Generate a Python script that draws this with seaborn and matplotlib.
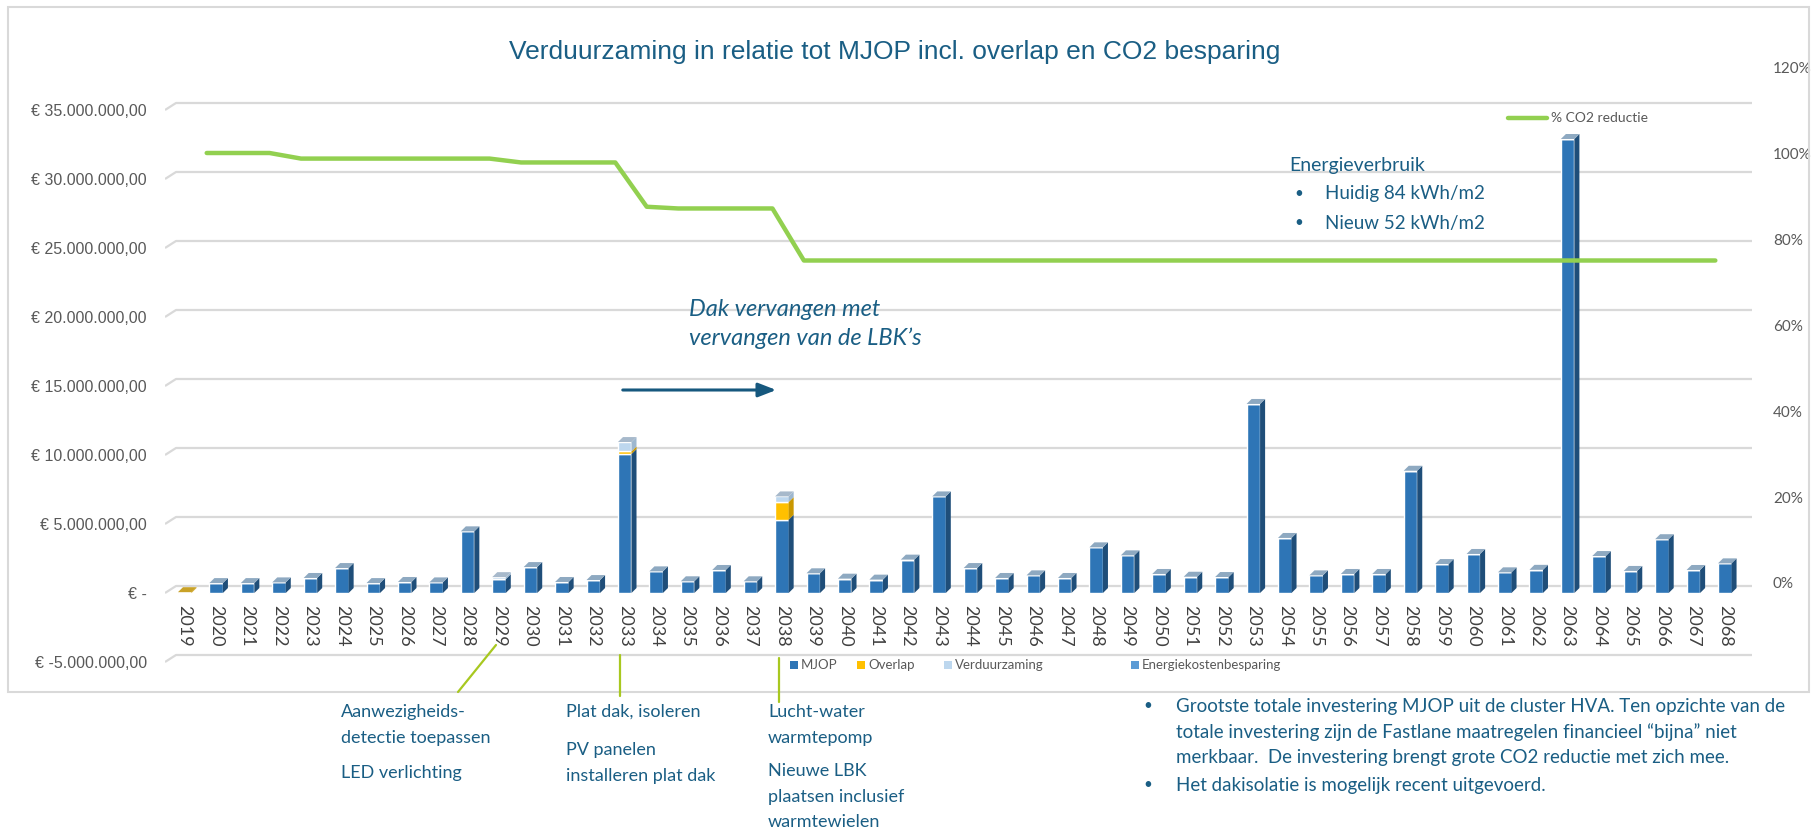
import numpy as np
import pandas as pd
import matplotlib
matplotlib.use("Agg")
import matplotlib.pyplot as plt
from matplotlib import font_manager
from matplotlib.patches import Rectangle
from matplotlib.lines import Line2D
import seaborn as sns

# Data (bedragen in miljoen euro)
years = list(range(2019, 2069))
mjop = [0.0, 0.72, 0.72, 0.77, 1.09, 1.81, 0.72, 0.80, 0.77, 4.47,
        1.00, 1.88, 0.80, 0.94, 10.07, 1.57, 0.85, 1.67, 0.85, 5.31,
        1.43, 1.04, 0.97, 2.42, 7.00, 1.81, 1.09, 1.28, 1.09, 3.31,
        2.73, 1.38, 1.18, 1.16, 13.70, 3.99, 1.28, 1.38, 1.38, 8.86,
        2.10, 2.83, 1.50, 1.68, 32.90, 2.68, 1.60, 3.90, 1.67, 2.15]
overlap = [0.06, 0, 0, 0, 0, 0, 0, 0, 0, 0,
           0, 0, 0, 0, 0.19, 0, 0, 0, 0, 1.28,
           0, 0, 0, 0, 0, 0, 0, 0, 0, 0,
           0, 0, 0, 0, 0, 0, 0, 0, 0, 0,
           0, 0, 0, 0, 0, 0, 0, 0, 0, 0]
verduurzaming = [0, 0, 0, 0, 0, 0, 0, 0, 0, 0,
                 0.15, 0, 0, 0, 0.68, 0, 0, 0, 0, 0.41,
                 0, 0, 0, 0, 0, 0, 0, 0, 0, 0,
                 0, 0, 0, 0, 0, 0, 0, 0, 0, 0,
                 0, 0, 0, 0, 0, 0, 0, 0, 0, 0]
co2_years = list(range(2020, 2069))
co2_reductie = [100, 100, 100, 98.7, 98.7, 98.7, 98.7, 98.7, 98.7, 98.7,
                97.8, 97.8, 97.8, 97.8, 87.5, 87.1, 87.1, 87.1, 87.1, 75,
                75, 75, 75, 75, 75, 75, 75, 75, 75, 75,
                75, 75, 75, 75, 75, 75, 75, 75, 75, 75,
                75, 75, 75, 75, 75, 75, 75, 75, 75]

left_ticks = [-5, 0, 5, 10, 15, 20, 25, 30, 35]
left_labels = ["€ -5.000.000,00", "€ -", "€ 5.000.000,00", "€ 10.000.000,00",
               "€ 15.000.000,00", "€ 20.000.000,00", "€ 25.000.000,00",
               "€ 30.000.000,00", "€ 35.000.000,00"]
right_ticks = [0, 20, 40, 60, 80, 100, 120]
right_labels = ["0%", "20%", "40%", "60%", "80%", "100%", "120%"]

title = "Verduurzaming in relatie tot MJOP incl. overlap en CO2 besparing"
teal = "#1A5E84"
grey = "#595959"
c_mjop, c_mjop_side, c_mjop_top = "#2E75B6", "#1F4E79", "#8EA9C1"
c_overlap, c_overlap_side = "#FFC000", "#C99700"
c_verd, c_verd_side = "#BDD7EE", "#9DB7CF"
c_energie = "#5B9BD5"
c_line = "#92D050"
c_callout = "#A8C820"

sns.set_theme(style="white")
plt.rcParams["font.family"] = ["Lato", "DejaVu Sans"]
names = {f.name for f in font_manager.fontManager.ttflist}
narrow = "Liberation Sans Narrow" if "Liberation Sans Narrow" in names else "Liberation Sans"

W, H = 1811, 830
fig = plt.figure(figsize=(W / 100, H / 100), dpi=100)


def fxy(px, py):
    return px / W, 1 - py / H


# plot area in pixels
ax_l, ax_r, ax_t, ax_b = 165, 1752, 60, 665
ax = fig.add_axes([ax_l / W, 1 - ax_b / H, (ax_r - ax_l) / W, (ax_b - ax_t) / H])

M = 1e6
df = pd.DataFrame({"jaar": [str(y) for y in years],
                   "MJOP": np.array(mjop) * M,
                   "Overlap": np.array(overlap) * M,
                   "Verduurzaming": np.array(verduurzaming) * M})
pos = np.arange(len(years))
bw = 0.43

sns.barplot(data=df, x="jaar", y="MJOP", color=c_mjop, saturation=1, width=bw,
            errorbar=None, ax=ax, zorder=3)
ax.bar(pos, df["Overlap"], bottom=df["MJOP"], width=bw, color=c_overlap, zorder=3)
ax.bar(pos, df["Verduurzaming"], bottom=df["MJOP"] + df["Overlap"], width=bw,
       color=c_verd, zorder=3)

# 3D look: side faces and top caps
dx, dy = 0.16, 0.36 * M
for i in pos:
    segs = [(0, df["MJOP"][i], c_mjop_side),
            (df["MJOP"][i], df["Overlap"][i], c_overlap_side),
            (df["MJOP"][i] + df["Overlap"][i], df["Verduurzaming"][i], c_verd_side)]
    for b, h, c in segs:
        if h > 0:
            xs = i + bw / 2
            ax.fill([xs, xs + dx, xs + dx, xs], [b, b + dy, b + h + dy, b + h],
                    color=c, lw=0, zorder=3)
    total = df["MJOP"][i] + df["Overlap"][i] + df["Verduurzaming"][i]
    if total > 0:
        cap = c_mjop_top if df["Verduurzaming"][i] == 0 and df["Overlap"][i] == 0 else "#A7B9CB"
        if df["MJOP"][i] == 0:
            cap = "#C9A227"
        xl = i - bw / 2
        ax.fill([xl, xl + bw, xl + bw + dx, xl + dx], [total, total, total + dy, total + dy],
                color=cap, lw=0, zorder=3)

# axis ranges
px_per_m = 13.8
x0 = (ax_l - 184.7) / 31.43
x1 = (ax_r - 184.7) / 31.43
ax.set_xlim(x0, x1)
ax.set_ylim(-(ax_b - 593) / px_per_m * M, (593 - ax_t) / px_per_m * M)

# gridlines with slanted front end
for v in left_ticks:
    yb = v * M + 7 / px_per_m * M
    ax.plot([x0, x0 + 0.35, x1], [v * M, yb, yb], color="#D9D9D9", lw=1.6, zorder=0,
            solid_capstyle="butt")

ax.set_xticks([])
ax.set_xlabel("")
ax.set_ylabel("")
ax.set_yticks([v * M for v in left_ticks])
ax.set_yticklabels(left_labels, fontsize=11.5, color=grey, family=narrow)
ax.tick_params(axis="y", length=0, pad=13)
for s in ax.spines.values():
    s.set_visible(False)

# year labels inside the plot area
for i, y in zip(pos, years):
    ax.text(i, -0.87 * M, str(y), rotation=-90, ha="center", va="top",
            fontsize=13, color="#404040")

# CO2 line on secondary axis
ax2 = ax.twinx()
line_x = [years.index(y) - 0.3 for y in co2_years]
sns.lineplot(x=line_x, y=co2_reductie, ax=ax2, color=c_line, lw=3.2, zorder=5)
ax2.set_ylim(-(ax_b - 583) / 4.3, (583 - ax_t) / 4.3)
ax2.set_yticks(right_ticks)
ax2.set_yticklabels(right_labels, fontsize=11, color=grey)
ax2.tick_params(axis="y", length=0, pad=15)
ax2.set_ylabel("")
ax2.grid(False)
for s in ax2.spines.values():
    s.set_visible(False)

# border
fig.add_artist(Rectangle(fxy(8, 692), 1801 / W, 685 / H, transform=fig.transFigure,
                         fill=False, ec="#D9D9D9", lw=1.5))

# title
fig.text(*fxy(895, 52), title, ha="center", va="center", fontsize=19, color=teal,
         family=narrow)

# CO2 legend
fig.add_artist(Line2D([1508 / W, 1547 / W], [1 - 118 / H] * 2, transform=fig.transFigure,
                      color=c_line, lw=3.2))
fig.text(*fxy(1551, 118), "% CO2 reductie", ha="left", va="center", fontsize=10, color=grey)

# bar legend
for name, col, px in [("MJOP", c_mjop, 794), ("Overlap", c_overlap, 861),
                      ("Verduurzaming", c_verd, 948),
                      ("Energiekostenbesparing", c_energie, 1135)]:
    fig.add_artist(Rectangle(fxy(px - 4, 669), 8 / W, 8 / H, transform=fig.transFigure,
                             color=col, lw=0))
    fig.text(*fxy(px + 7, 665), name, ha="left", va="center", fontsize=9.5, color=grey)

# energy info
fig.text(*fxy(1289, 165), "Energieverbruik", ha="left", va="center", fontsize=14, color=teal)
fig.text(*fxy(1294, 194), "•", ha="left", va="center", fontsize=11, color=teal)
fig.text(*fxy(1325, 194), "Huidig 84 kWh/m2", ha="left", va="center", fontsize=13.5, color=teal)
fig.text(*fxy(1294, 223), "•", ha="left", va="center", fontsize=11, color=teal)
fig.text(*fxy(1325, 223), "Nieuw 52 kWh/m2", ha="left", va="center", fontsize=13.5, color=teal)

# roof annotation with arrow
fig.text(*fxy(689, 309), "Dak vervangen met", ha="left", va="center", fontsize=17,
         color=teal, style="italic")
fig.text(*fxy(689, 338), "vervangen van de LBK’s", ha="left", va="center", fontsize=17,
         color=teal, style="italic")
ax.annotate("", xy=fxy(779, 390), xytext=fxy(620, 390), xycoords="figure fraction",
            textcoords="figure fraction",
            arrowprops=dict(arrowstyle="-|>,head_length=0.9,head_width=0.35",
                            color="#16587E", lw=2.2))

# callout lines
for (xa, ya), (xb, yb) in [((496, 645), (458, 692)), ((620, 655), (620, 696)),
                           ((779, 658), (779, 702))]:
    fig.add_artist(Line2D([xa / W, xb / W], [1 - ya / H, 1 - yb / H],
                          transform=fig.transFigure, color=c_callout, lw=1.6))

# measure texts
notes = [(341, 712, "Aanwezigheids-"), (341, 738, "detectie toepassen"),
         (341, 773, "LED verlichting"),
         (566, 712, "Plat dak, isoleren"), (566, 750, "PV panelen"),
         (566, 776, "installeren plat dak"),
         (768, 712, "Lucht-water"), (768, 738, "warmtepomp"), (768, 771, "Nieuwe LBK"),
         (768, 797, "plaatsen inclusief"), (768, 822, "warmtewielen")]
for px, py, txt in notes:
    fig.text(*fxy(px, py), txt, ha="left", va="center", fontsize=13, color=teal)

bullets = [(706, "Grootste totale investering MJOP uit de cluster HVA. Ten opzichte van de", True),
           (732, "totale investering zijn de Fastlane maatregelen financieel “bijna” niet", False),
           (757, "merkbaar.  De investering brengt grote CO2 reductie met zich mee.", False),
           (785, "Het dakisolatie is mogelijk recent uitgevoerd.", True)]
for py, txt, dot in bullets:
    if dot:
        fig.text(*fxy(1143, py), "•", ha="left", va="center", fontsize=11, color=teal)
    fig.text(*fxy(1176, py), txt, ha="left", va="center", fontsize=13.5, color=teal)

fig.savefig("out.png", dpi=100)
